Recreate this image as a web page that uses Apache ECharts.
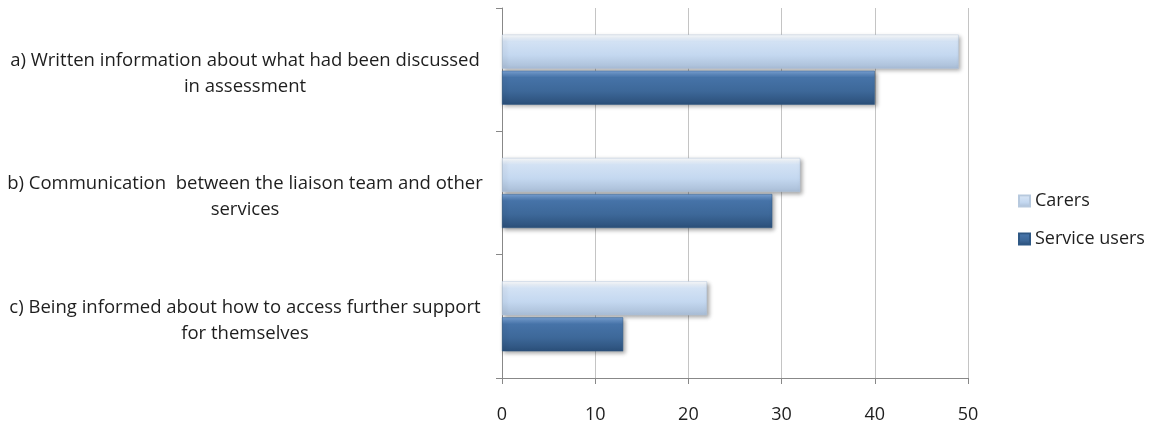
<!DOCTYPE html>
<html>
<head>
<meta charset="utf-8">
<script src="https://cdn.jsdelivr.net/npm/echarts@6/dist/echarts.min.js"></script>
<style>
  html, body { margin: 0; padding: 0; background: #fff; }
  #chart { width: 1151px; height: 424px; }
</style>
</head>
<body>
<div id="chart"></div>
<script>
// categories (top to bottom)
var categories = [
    'a) Written information about what had been discussed\nin assessment',
    'b) Communication  between the liaison team and other\nservices',
    'c) Being informed about how to access further support\nfor themselves'
]
var carers = [49, 32, 22]
var serviceUsers = [40, 29, 13]
var xTicks = [0, 10, 20, 30, 40, 50]

var font = '"Open Sans", "Liberation Sans", sans-serif'

var carersColor = new echarts.graphic.LinearGradient(0, 0, 0, 1, [
    { offset: 0, color: '#ffffff' },
    { offset: 0.2, color: '#d3e2f4' },
    { offset: 0.6, color: '#c4d8f0' },
    { offset: 1, color: '#a9bdd6' }
])
var usersColor = new echarts.graphic.LinearGradient(0, 0, 0, 1, [
    { offset: 0, color: '#7aa3d6' },
    { offset: 0.2, color: '#4673a8' },
    { offset: 0.6, color: '#3d6899' },
    { offset: 1, color: '#2b4f79' }
])

var option = {
    animation: false,
    backgroundColor: '#fff',
    grid: {
        left: 502,
        right: 183,
        top: 8,
        bottom: 46
    },
    legend: {
        orient: 'vertical',
        left: 1013,
        top: 187,
        itemWidth: 11,
        itemHeight: 11,
        itemGap: 20,
        icon: 'rect',
        textStyle: { fontFamily: font, fontSize: 18, color: '#1e1e1e' },
        data: ['Carers', 'Service users']
    },
    xAxis: {
        type: 'value',
        min: 0,
        max: 50,
        interval: 10,
        axisLine: { show: true, lineStyle: { color: '#888', width: 1 } },
        axisTick: { show: true, length: 6, lineStyle: { color: '#888' } },
        splitLine: { show: true, lineStyle: { color: '#c4c4c4', width: 1 } },
        axisLabel: {
            margin: 28,
            fontFamily: font,
            fontSize: 18,
            color: '#1e1e1e',
            formatter: function (v) { return xTicks.indexOf(v) >= 0 ? String(v) : '' }
        }
    },
    yAxis: {
        type: 'category',
        inverse: true,
        data: categories,
        axisLine: { show: true, lineStyle: { color: '#888', width: 1 } },
        axisTick: { show: true, length: 6, lineStyle: { color: '#888' } },
        axisLabel: {
            margin: 257,
            align: 'center',
            fontFamily: font,
            fontSize: 18.5,
            lineHeight: 26,
            color: '#1e1e1e',
            // small spacer line on top pushes the two text lines down a little
            formatter: function (v) { return '{s| }\n' + v },
            rich: {
                s: { fontSize: 1, lineHeight: 8 }
            }
        }
    },
    series: [
        {
            name: 'Carers',
            type: 'bar',
            data: carers,
            barWidth: 34,
            barGap: '6%',
            itemStyle: {
                color: carersColor,
                borderColor: '#b7c9de',
                borderWidth: 0.5,
                shadowColor: 'rgba(0,0,0,0.35)',
                shadowBlur: 4,
                shadowOffsetX: 2,
                shadowOffsetY: 2
            }
        },
        {
            name: 'Service users',
            type: 'bar',
            data: serviceUsers,
            barWidth: 34,
            barGap: '6%',
            itemStyle: {
                color: usersColor,
                borderColor: '#2f5885',
                borderWidth: 0.5,
                shadowColor: 'rgba(0,0,0,0.35)',
                shadowBlur: 4,
                shadowOffsetX: 2,
                shadowOffsetY: 2
            }
        }
    ]
}

var myChart = echarts.init(document.getElementById('chart'))
myChart.setOption(option)
</script>
</body>
</html>
